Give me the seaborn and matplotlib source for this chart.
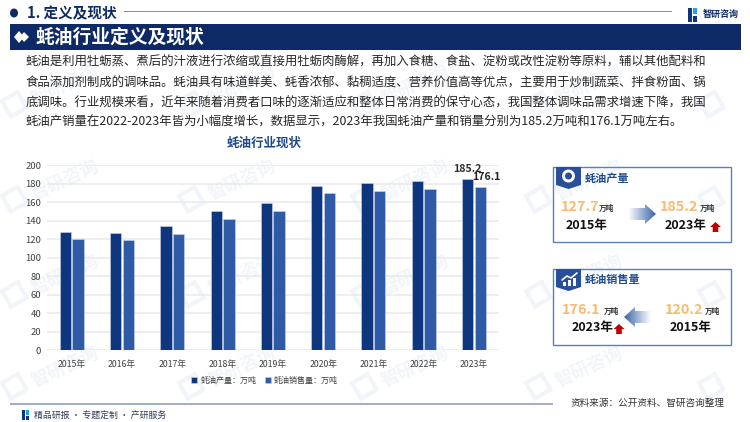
import numpy as np
import pandas as pd
import matplotlib
matplotlib.use("Agg")
import matplotlib.pyplot as plt
from matplotlib.patches import Polygon, Rectangle, Ellipse
import seaborn as sns

years = ["2015年", "2016年", "2017年", "2018年", "2019年", "2020年", "2021年", "2022年", "2023年"]
production = [127.7, 127.0, 134.0, 150.5, 159.0, 178.0, 180.5, 183.0, 185.2]
sales = [120.2, 119.5, 126.0, 142.0, 150.0, 170.0, 172.0, 174.0, 176.1]
series_names = ["蚝油产量：万吨", "蚝油销售量：万吨"]
body_lines = [
    "蚝油是利用牡蛎蒸、煮后的汁液进行浓缩或直接用牡蛎肉酶解，再加入食糖、食盐、淀粉或改性淀粉等原料，辅以其他配料和",
    "食品添加剂制成的调味品。蚝油具有味道鲜美、蚝香浓郁、黏稠适度、营养价值高等优点，主要用于炒制蔬菜、拌食粉面、锅",
    "底调味。行业规模来看，近年来随着消费者口味的逐渐适应和整体日常消费的保守心态，我国整体调味品需求增速下降，我国",
    "蚝油产销量在2022-2023年皆为小幅度增长，数据显示，2023年我国蚝油产量和销量分别为185.2万吨和176.1万吨左右。",
]

sns.set_theme(style="white")
plt.rcParams["font.family"] = ["Noto Sans CJK SC", "DejaVu Sans"]
plt.rcParams["axes.unicode_minus"] = False

NAVY = "#0e2a66"
C1 = "#0e367f"
C2 = "#2f5aa6"
ORANGE = "#f8bb72"
W, H = 750, 422
fig = plt.figure(figsize=(7.5, 4.22), dpi=100, facecolor="white")


def px_axes(z):
    a = fig.add_axes([0, 0, 1, 1], zorder=z)
    a.set_xlim(0, W)
    a.set_ylim(H, 0)
    a.axis("off")
    a.patch.set_alpha(0)
    return a


back = px_axes(0)
front = px_axes(2)

# watermarks
WM = "#f1f5fa"
for cy in [110, 205, 300, 392]:
    for cx in [13, 190, 363, 537, 710]:
        back.add_patch(Rectangle((cx - 11, cy - 9), 18, 18, angle=-30, fc="none", ec=WM, lw=3))
        if cx < 700:
            back.text(cx + 52, cy - 25, "智研咨询", fontsize=13, color=WM, rotation=25,
                      ha="center", va="center", fontweight="bold")

# heading
front.add_patch(Ellipse((14, 13), 8, 9, fc=NAVY, ec="none"))
front.text(27, 13, "1. 定义及现状", fontsize=10.5, fontweight="bold", color=NAVY, ha="left", va="center")
front.add_patch(Rectangle((124, 10.5), 548, 1.1, fc="#7f8fb3", ec="none"))
front.add_patch(Rectangle((688, 8), 4, 14, fc="#0e367f", ec="none"))
front.add_patch(Rectangle((693, 8), 4, 6, fc="#2aa0dc", ec="none"))
front.add_patch(Rectangle((693, 16), 4, 6, fc="#0e367f", ec="none"))
front.text(703, 14, "智研咨询", fontsize=6.5, fontweight="bold", color=NAVY, ha="left", va="center")

front.add_patch(Rectangle((10, 23.5), 731, 26.5, fc=NAVY, ec="none"))
front.add_patch(Polygon([(14, 37), (19, 31), (24, 37), (19, 43)], fc="white", ec="none"))
front.add_patch(Polygon([(20, 37), (24, 32), (29, 37), (24, 42)], fc="white", ec="none"))
front.text(35, 37.5, "蚝油行业定义及现状", fontsize=13.5, fontweight="bold", color="white", ha="left", va="center")

for y, line in zip([62.5, 83, 103, 122.5], body_lines):
    front.text(26, y, line, fontsize=8.95, color="#262626", ha="left", va="center")

# chart
df = pd.DataFrame({"year": years * 2,
                   "value": production + sales,
                   "series": [series_names[0]] * len(years) + [series_names[1]] * len(years)})
ax = fig.add_axes([46.7 / W, 1 - 350 / H, (499 - 46.7) / W, (350 - 165.3) / H], zorder=1)
ax.patch.set_alpha(0)
sns.barplot(data=df, x="year", y="value", hue="series", hue_order=series_names,
            palette=[C1, C2], width=0.5, gap=0.1, saturation=1, ax=ax,
            edgecolor="#c9d4ea", linewidth=0.4, legend=True, zorder=3)
ax.set_xlim(-0.5, 8.5)
ax.set_ylim(0, 200)
ax.set_yticks(np.arange(0, 201, 20))
ax.set_xlabel("")
ax.set_ylabel("")
ax.grid(axis="y", color="#e9e9ec", lw=1.1, zorder=0)
ax.set_axisbelow(True)
sns.despine(ax=ax, left=True, bottom=True, top=True, right=True)
ax.tick_params(axis="x", length=0, labelsize=6.3, labelcolor="#404040", pad=7)
ax.tick_params(axis="y", length=0, labelsize=6.8, labelcolor="#404040", pad=4)
ax.legend(loc="center", bbox_to_anchor=(0.482, -0.163), ncol=2, frameon=False, fontsize=5.8,
          handlelength=0.7, handleheight=0.7, handletextpad=0.4, columnspacing=1.1,
          labelcolor="#404040")
ax.text(8 - 0.14, production[-1] + 5, f"{production[-1]}", ha="center", va="bottom",
        fontsize=7.6, fontweight="bold", color="#303030")
ax.text(8 + 0.25, sales[-1] + 5.5, f"{sales[-1]}", ha="center", va="bottom",
        fontsize=7.6, fontweight="bold", color="#222222")
front.text(264.5, 143.5, "蚝油行业现状", fontsize=9, fontweight="bold", color="#1f4a8a", ha="center", va="center")


def ribbon(x0, y0):
    front.add_patch(Polygon([(x0, y0), (x0 + 25, y0), (x0 + 25, y0 + 18), (x0 + 12.5, y0 + 22), (x0, y0 + 18)],
                            fc="#2a4f9a", ec="none"))


def grad_arrow(x0, x1, yc, left):
    """x0 = tail (faded) end, x1 = tip"""
    rgba = np.zeros((1, 64, 4))
    rgba[..., :3] = matplotlib.colors.to_rgb("#3b64a8")
    ramp = np.linspace(0, 1, 64)
    rgba[..., 3] = ramp[::-1] if left else ramp
    xl, xr = (x1, x0) if left else (x0, x1)
    im = front.imshow(rgba, extent=(xl, xr, yc + 11, yc - 11), aspect="auto", zorder=3)
    s = -1 if left else 1
    pts = [(x0, yc - 6), (x1 - s * 11, yc - 6), (x1 - s * 11, yc - 10), (x1, yc),
           (x1 - s * 11, yc + 10), (x1 - s * 11, yc + 6), (x0, yc + 6)]
    poly = Polygon(pts, transform=front.transData, fc="none", ec="none")
    front.add_patch(poly)
    im.set_clip_path(poly)
    front.set_xlim(0, W)
    front.set_ylim(H, 0)


def up_arrow(xc, y0):
    front.add_patch(Polygon([(xc, y0), (xc + 5.5, y0 + 5), (xc + 2.8, y0 + 5), (xc + 2.8, y0 + 10),
                             (xc - 2.8, y0 + 10), (xc - 2.8, y0 + 5), (xc - 5.5, y0 + 5)],
                            fc="#c00000", ec="none"))


def num(x, y, s):
    front.text(x, y, s, fontsize=10.4, fontweight="bold", color=ORANGE, ha="left", va="center")


def unit(x, y):
    front.text(x, y, "万吨", fontsize=5.5, fontweight="bold", color="#333333", ha="left", va="center")


def yr(x, y, s):
    front.text(x, y, s, fontsize=9, fontweight="bold", color="#111111", ha="center", va="center")


# panel 1
front.add_patch(Rectangle((552.7, 167), 178, 75, fc="none", ec="#5b7fbd", lw=1))
ribbon(556, 167)
front.add_patch(Ellipse((568.5, 176), 13, 13, fc="white", ec="none"))
front.add_patch(Ellipse((568.5, 176), 7, 7, fc="#2a4f9a", ec="none"))
front.text(585, 178, "蚝油产量", fontsize=8, fontweight="bold", color="#1f4a8a", ha="left", va="center")
num(561, 207, "127.7")
unit(599, 208.5)
yr(587, 226, "2015年")
grad_arrow(628, 656, 214, False)
num(660, 207, "185.2")
unit(700, 208.5)
yr(686, 226, "2023年")
up_arrow(715.5, 222)

# panel 2
front.add_patch(Rectangle((552.7, 269), 178, 76, fc="none", ec="#5b7fbd", lw=1))
ribbon(556, 269)
front.plot([562, 567, 571, 577], [280, 276, 278, 273], color="white", lw=1.2)
for bx, bh in [(563, 4), (568, 6), (573, 8)]:
    front.add_patch(Rectangle((bx, 286 - bh), 3, bh, fc="white", ec="none"))
front.text(585, 280, "蚝油销售量", fontsize=8, fontweight="bold", color="#1f4a8a", ha="left", va="center")
num(562, 310, "176.1")
unit(604, 311)
yr(593, 328, "2023年")
up_arrow(619, 324)
grad_arrow(651, 624, 317, True)
num(665, 310, "120.2")
unit(705, 311)
yr(690.5, 328, "2015年")

# footer
front.add_patch(Rectangle((10, 403), 543, 2, fc="#a3aeca", ec="none"))
front.add_patch(Rectangle((22, 410), 3, 10, fc="#0e367f", ec="none"))
front.add_patch(Rectangle((26, 410), 3, 5, fc="#2aa0dc", ec="none"))
front.add_patch(Rectangle((26, 416), 3, 4, fc="#0e367f", ec="none"))
front.text(34, 415, "精品研报 · 专题定制 · 产研服务", fontsize=6.4, color="#2f3d5c", ha="left", va="center")
front.text(725, 403, "资料来源：公开资料、智研咨询整理", fontsize=6.9, color="#333333", ha="right", va="center")

fig.savefig("out.png", dpi=100)
